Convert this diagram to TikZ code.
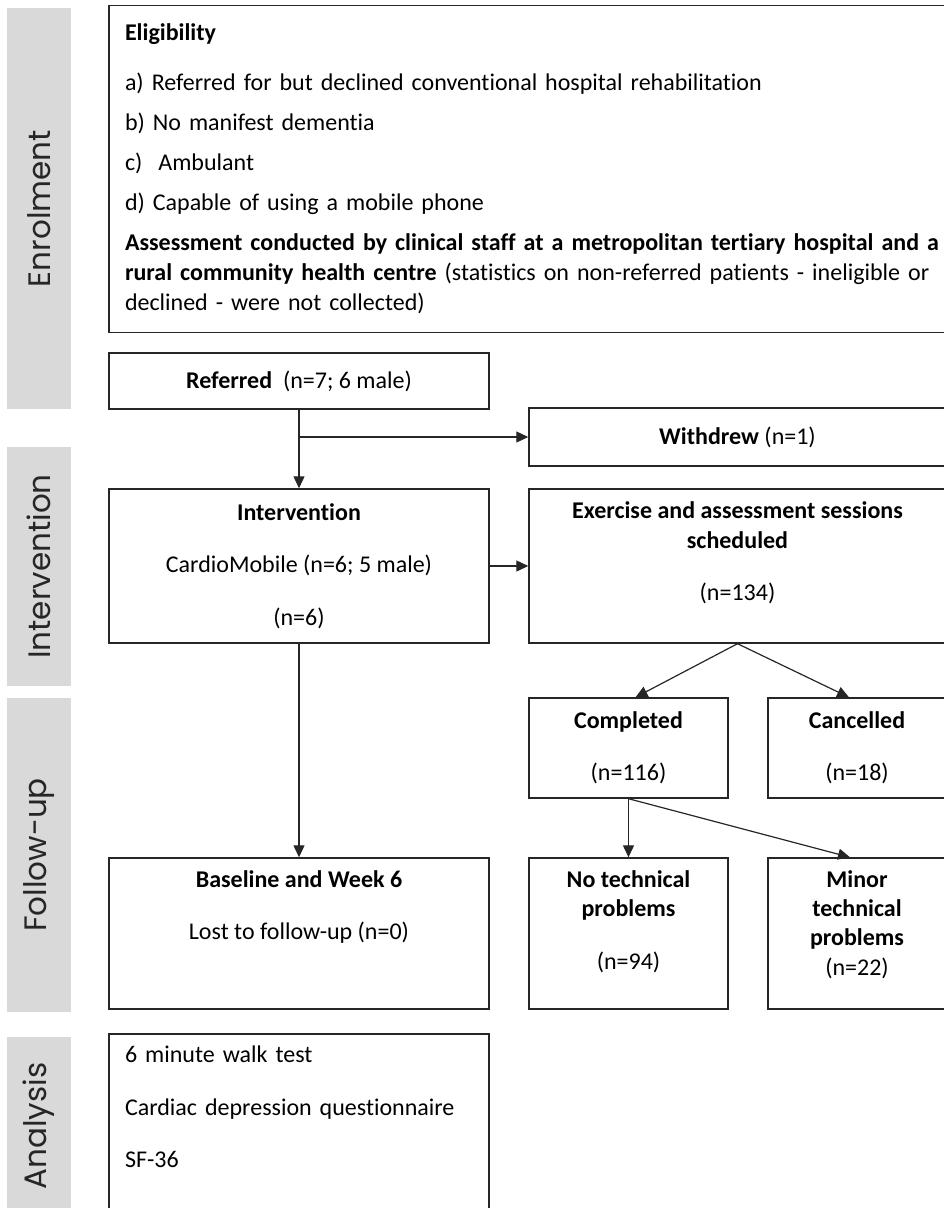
\documentclass[tikz,border=0pt]{standalone}
\usepackage{fontspec}
\setmainfont{Carlito}[Ligatures=NoCommon]
\newfontfamily\bandfont{Poppins}
\usetikzlibrary{arrows.meta,positioning}
\definecolor{bandgray}{RGB}{217,217,217}
\definecolor{linegray}{RGB}{38,38,38}
\setlength{\parindent}{0pt}

\begin{document}
\begin{tikzpicture}[x=1pt, y=-1pt,
  band/.style={fill=bandgray, rotate=90, minimum height=64pt, inner sep=0pt,
               font=\bandfont\fontsize{31}{36}\selectfont, text=black!85},
  box/.style={draw=linegray, line width=1.4pt, align=center, inner sep=0pt,
              font=\fontsize{24}{29.3}\selectfont},
  arr/.style={-{Triangle[length=12pt, width=11pt]}, line width=1.2pt, linegray}
]
\useasboundingbox (0,0) rectangle (944,1208);
% phase bands on the left
\node[band, minimum width=401pt] (benrol) at (39,208.5) {Enrolment};
\node[band, minimum width=239pt] (binterv) at (39,566.5) {Intervention};
\node[band, minimum width=314pt] (bfollow) at (39,855) {Follow-up};
\node[band, minimum width=178pt] (banalys) at (39,1126) {Analysis};
% eligibility
\node[box, minimum width=846pt, minimum height=327pt, text width=814pt, align=left,
      font=\fontsize{24}{30}\selectfont] (elig) at (532,169) {%
  {\bfseries Eligibility}\\[20pt]
  a) Referred for but declined conventional hospital rehabilitation\\[10pt]
  b) No manifest dementia\\[10pt]
  c)\ \ Ambulant\\[10pt]
  d) Capable of using a mobile phone\\[10pt]
  \makebox[814pt][s]{\bfseries Assessment conducted by clinical staff at a metropolitan tertiary hospital and a}\\
  \makebox[814pt][s]{{\bfseries rural community health centre} (statistics on non-referred patients - ineligible or}\\
  declined - were not collected)};
% flow boxes
\node[box, minimum width=380pt, minimum height=56pt] (refd) at (299,381) {{\bfseries Referred}\ \ (n=7; 6 male)};
\node[box, minimum width=417pt, minimum height=58pt] (wdrw) at (737.5,437) {{\bfseries Withdrew} (n=1)};
\node[box, minimum width=380pt, minimum height=154pt] (interv) at (299,566) {{\bfseries Intervention}\\[23pt]CardioMobile (n=6; 5 male)\\[23pt](n=6)};
\node[box, minimum width=417pt, minimum height=154pt] (sched) at (737.5,566) {{\bfseries Exercise and assessment sessions}\\{\bfseries scheduled}\\[23pt](n=134)\\[0pt]\mbox{}};
\node[box, minimum width=199pt, minimum height=100pt] (compl) at (628.5,748) {{\bfseries Completed}\\[23pt](n=116)};
\node[box, minimum width=178pt, minimum height=100pt] (cancl) at (857,748) {{\bfseries Cancelled}\\[23pt](n=18)};
\node[box, minimum width=380pt, minimum height=151pt] (basel) at (299,933.5) {{\bfseries Baseline and Week 6}\\[23pt]Lost to follow-up (n=0)\\[28pt]\mbox{}};
\node[box, minimum width=199pt, minimum height=151pt] (notech) at (628.5,933.5) {{\bfseries No technical}\\{\bfseries problems}\\[23pt](n=94)\\[-2pt]\mbox{}};
\node[box, minimum width=178pt, minimum height=151pt] (minor) at (857,933.5) {{\bfseries Minor}\\{\bfseries technical}\\{\bfseries problems}\\(n=22)\\[-8pt]\mbox{}};
\node[box, minimum width=380pt, minimum height=206pt, text width=348pt, align=left] (analys) at (299,1137) {6 minute walk test\\[23pt]Cardiac depression questionnaire\\[23pt]SF-36\\[31pt]\mbox{}};
% connectors
\coordinate (split) at (refd.south |- wdrw.west);
\draw[arr] (refd) -- (interv);
\draw[arr] (split) -- (wdrw);
\draw[arr] (interv) -- (sched);
\draw[arr] (interv) -- (basel);
\draw[arr] (sched.south) -- ([xshift=7pt]compl.north);
\draw[arr] (sched.south) -- ([xshift=-8pt]cancl.north);
\draw[arr] (compl) -- (notech);
\draw[arr] (compl.south) -- ([xshift=-7pt]minor.north);
\end{tikzpicture}
\end{document}
